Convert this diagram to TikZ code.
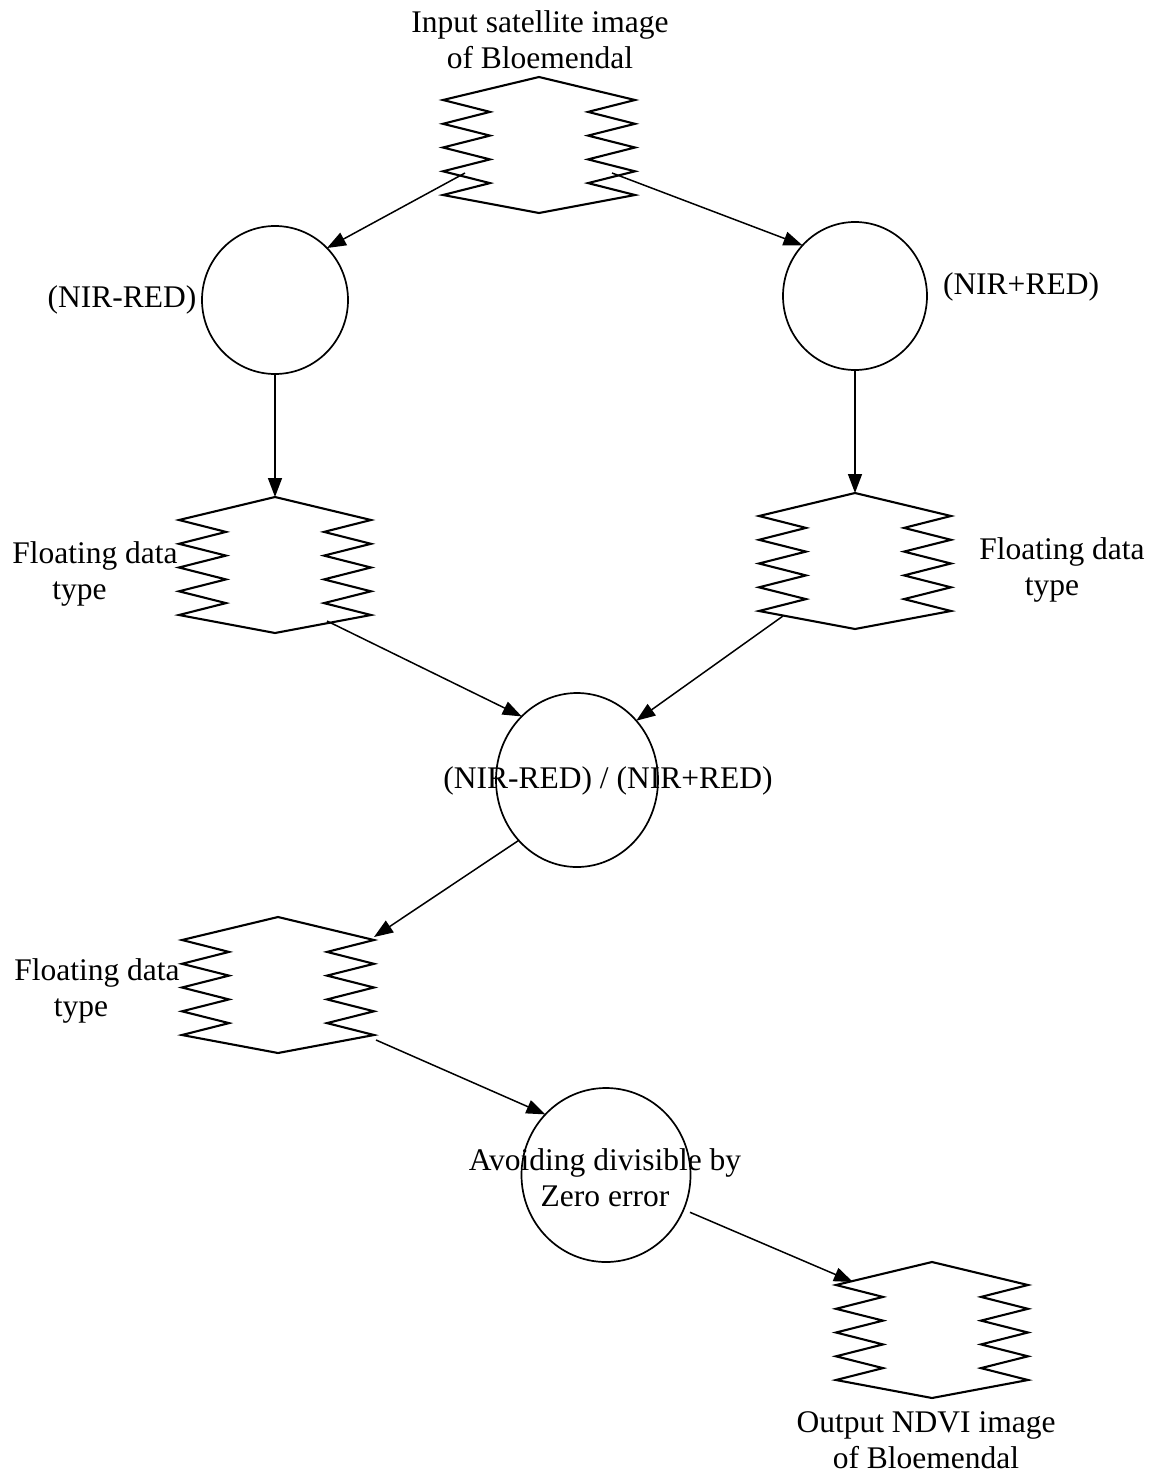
\documentclass[tikz,border=0pt]{standalone}
\usepackage{fontspec}
\setmainfont{Liberation Serif}
\usetikzlibrary{arrows.meta,shapes.geometric,calc}
\begin{document}
\begin{tikzpicture}[x=1pt,y=-1pt,
  line join=miter,
  shapeline/.style={draw, line width=2.1pt},
  proc/.style={ellipse, draw, line width=1.7pt, inner sep=0pt, outer sep=0pt},
  lbl/.style={font=\fontsize{31.5}{36}\selectfont, align=center, inner sep=0pt, anchor=base},
  conn/.style={draw, line width=1.5pt, -{Triangle[length=19pt,width=14pt]}},
  zz/.pic={
    \draw[shapeline] (0,0) -- (96,23) -- (49,34.9) -- (96,46.8) -- (49,58.6) -- (96,70.5)
      -- (49,82.4) -- (96,94.3) -- (49,106.1) -- (96,118) -- (0,136) -- (-96,118)
      -- (-49,106.1) -- (-96,94.3) -- (-49,82.4) -- (-96,70.5) -- (-49,58.6)
      -- (-96,46.8) -- (-49,34.9) -- (-96,23) -- cycle;
    \coordinate (-apex) at (0,0);
  }
]
\useasboundingbox (0,0) rectangle (1159,1477);

% data (zig-zag) shapes
\pic (top) at (539,77) {zz};
\pic (fl)  at (275,497) {zz};
\pic (fr)  at (855,493) {zz};
\pic (fl2) at (278,917) {zz};
\pic (out) at (932,1262) {zz};

% process circles
\node[proc, minimum width=146pt, minimum height=148pt] (c1) at (275,300) {};
\node[proc, minimum width=144pt, minimum height=148pt] (c2) at (855,296) {};
\node[proc, minimum width=162pt, minimum height=174pt] (c3) at (577,780) {};
\node[proc, minimum width=169pt, minimum height=174pt] (c4) at (606,1175) {};

% connectors
\draw[conn] ($(top-apex)+(-74,96)$) -- (c1.45);
\draw[conn] ($(top-apex)+(73,96)$) -- (c2.136);
\draw[conn] (c1.south) -- (fl-apex);
\draw[conn] (c2.south) -- (fr-apex);
\draw[conn] ($(fl-apex)+(52,124)$) -- (c3.131);
\draw[conn] ($(fr-apex)+(-72,123)$) -- (c3.45);
\draw[conn] (c3.226) -- ($(fl2-apex)+(96,20)$);
\draw[conn] ($(fl2-apex)+(98,123)$) -- (c4.135);
\draw[conn, shorten <=7pt] (c4.336) -- ($(out-apex)+(-79,20)$);

% labels (base anchor = baseline of the last line)
\node[lbl] (title) at (540,69) {Input satellite image\\of Bloemendal};
\node[lbl] (lnr) at (122,307) {(NIR-RED)};
\node[lbl] (lpr) at (1021,294) {(NIR+RED)};
\node[lbl] (lfl) at (95,599) {Floating data\\type\hspace*{31pt}};
\node[lbl] (lfr) at (1062,595) {Floating data\\type\hspace*{20pt}};
\node[lbl] (lmid) at (608,788) {(NIR-RED) / (NIR+RED)};
\node[lbl] (lfl2) at (97,1016) {Floating data\\type\hspace*{32pt}};
\node[lbl] (lavo) at (605,1206) {Avoiding divisible by\\Zero error};
\node[lbl] (lout) at (926,1468) {Output NDVI image\\of Bloemendal};
\end{tikzpicture}
\end{document}
